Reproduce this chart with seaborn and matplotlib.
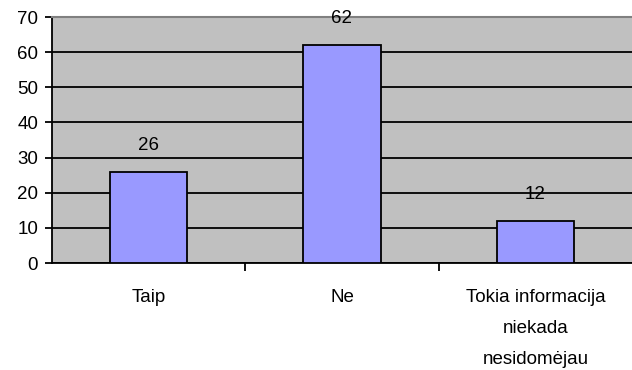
import matplotlib
matplotlib.use("Agg")
import matplotlib.pyplot as plt
from matplotlib.ticker import FixedLocator
import seaborn as sns
import pandas as pd

categories = ["Taip", "Ne", "Tokia informacija\nniekada\nnesidomėjau"]
values = [26, 62, 12]
y_ticks = [0, 10, 20, 30, 40, 50, 60, 70]

sns.set_style("white")
plt.rcParams["font.family"] = ["Liberation Sans", "DejaVu Sans"]
plt.rcParams["font.size"] = 13.5
plt.rcParams["text.color"] = "black"
plt.rcParams["xtick.color"] = "black"
plt.rcParams["ytick.color"] = "black"
plt.rcParams["xtick.labelcolor"] = "black"
plt.rcParams["ytick.labelcolor"] = "black"

df = pd.DataFrame({"cat": categories, "val": values})

fig = plt.figure(figsize=(6.32, 3.70), dpi=100)
ax = fig.add_axes([52 / 632, 107 / 370, 1 - 52 / 632, (263 - 17) / 370])
ax.set_facecolor("#C0C0C0")

sns.barplot(data=df, x="cat", y="val", color="#9999FF", width=0.4,
            edgecolor="black", linewidth=1.3, saturation=1, ax=ax, zorder=3)

ax.set_xlim(-0.5, 2.5)
ax.set_ylim(0, 70)
ax.set_yticks(y_ticks)
ax.yaxis.grid(True, color="black", linewidth=1.3, zorder=0)
ax.set_axisbelow(True)
ax.set_xlabel("")
ax.set_ylabel("")

for s in ["left", "bottom"]:
    ax.spines[s].set_color("black")
    ax.spines[s].set_linewidth(1.3)
ax.spines["top"].set_color("#808080")
ax.spines["top"].set_linewidth(1.5)
ax.spines["right"].set_visible(False)

ax.tick_params(axis="y", direction="out", length=5, width=1.3, colors="black",
               pad=5, labelsize=13.5, left=True)
ax.tick_params(axis="x", which="major", length=0, pad=18.5, labelsize=13.5,
               colors="black")
ax.xaxis.set_minor_locator(FixedLocator([0.5, 1.5]))
ax.tick_params(axis="x", which="minor", direction="out", length=6, width=1.3,
               color="black", bottom=True)
for lbl in ax.get_xticklabels():
    lbl.set_linespacing(2.1)
    lbl.set_verticalalignment("top")
    lbl.set_horizontalalignment("center")

for i, v in enumerate(values):
    ax.annotate(f"{v}", xy=(i, v), xytext=(0, 19), textcoords="offset points",
                ha="center", va="center", fontsize=13.5, color="black",
                annotation_clip=False, zorder=5)

fig.savefig("out.png", dpi=100, facecolor="white")
